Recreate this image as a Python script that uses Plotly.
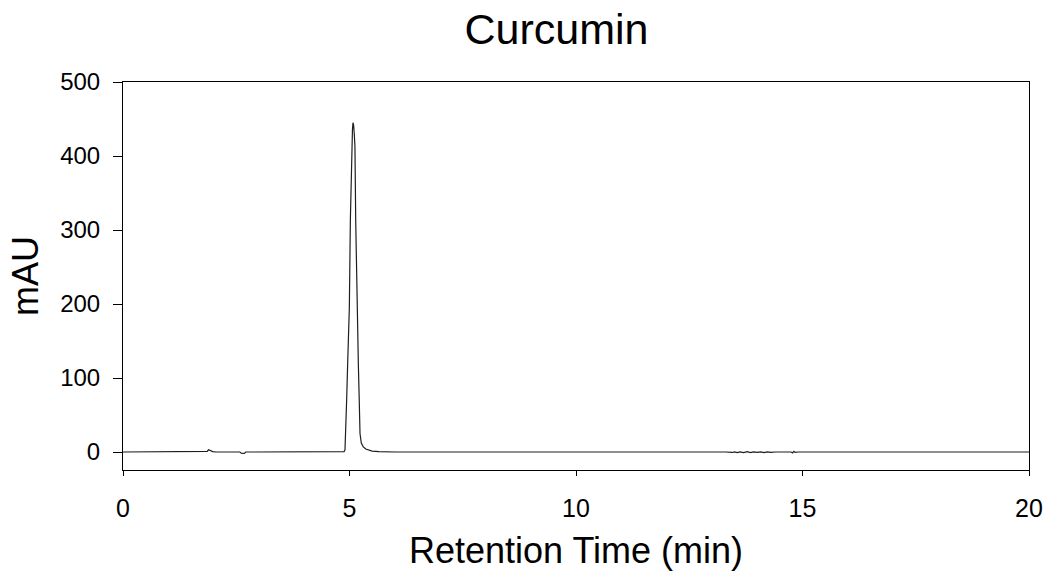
import plotly.graph_objects as go

# Chromatogram points (time in min, absorbance in mAU)
time_min = [
    0.00, 1.80, 1.86, 1.89, 1.93, 1.98, 2.05, 2.58, 2.61, 2.64, 2.68, 2.71,
    4.80, 4.88, 4.90, 4.915, 4.937, 4.955, 4.974, 4.997, 5.019, 5.035, 5.048, 5.065, 5.077,
    5.09, 5.105, 5.12, 5.137, 5.15, 5.166, 5.18, 5.195, 5.215, 5.232, 5.26, 5.305, 5.36,
    5.42, 5.50, 5.65, 6.00,
    13.30, 13.45, 13.50, 13.56, 13.62, 13.70, 13.78, 13.85, 13.92, 14.00, 14.08, 14.15,
    14.22, 14.30, 14.40, 14.75, 14.78, 14.81, 14.84, 14.90, 20.00,
]
absorbance_mau = [
    0.0, 0.0, 1.0, 3.0, 2.0, 0.5, 0.0, 0.0, -1.5, -2.0, -1.8, 0.0,
    0.0, 0.5, 2.5, 25.0, 70.0, 110.0, 145.0, 196.0, 313.0, 370.0, 413.0, 435.0, 445.0,
    442.0, 430.0, 413.0, 313.0, 260.0, 210.0, 165.0, 120.0, 70.0, 25.0, 12.0, 7.0, 4.0,
    2.5, 1.2, 0.5, 0.0,
    0.0, -0.6, 0.3, -0.8, 0.2, -0.7, 0.4, -0.9, 0.3, -0.6, 0.2, -0.8,
    0.3, -0.5, 0.0, 0.0, -1.2, 0.8, -0.6, 0.0, 0.0,
]

x_ticks = [0, 5, 10, 15, 20]
y_ticks = [0, 100, 200, 300, 400, 500]

FONT = "Arial, Liberation Sans, sans-serif"

fig = go.Figure(
    go.Scatter(
        x=time_min,
        y=absorbance_mau,
        mode="lines",
        line=dict(color="#1e1e1e", width=1.2),
        hoverinfo="x+y",
    )
)

fig.update_layout(
    width=1049,
    height=577,
    margin=dict(l=123, r=20, t=82, b=107, autoexpand=False),
    paper_bgcolor="white",
    plot_bgcolor="white",
    showlegend=False,
    font=dict(family=FONT, color="black"),
    title=dict(
        text="Curcumin",
        x=(465 + 648) / 2 / 1049,
        xanchor="center",
        y=1 - 29 / 577,
        yanchor="middle",
        yref="container",
        font=dict(size=43, family=FONT, color="black"),
    ),
)

fig.update_xaxes(
    range=[0, 20],
    tickvals=x_ticks,
    ticks="outside",
    ticklen=5,
    tickcolor="black",
    tickwidth=1,
    tickfont=dict(size=25, family=FONT, color="black"),
    ticklabelstandoff=11,
    showline=True,
    linecolor="black",
    linewidth=1,
    mirror=True,
    showgrid=False,
    zeroline=False,
    automargin=False,
    title=dict(text="Retention Time (min)", font=dict(size=36, family=FONT, color="black"), standoff=16),
)

fig.update_yaxes(
    range=[-24.3, 500],
    tickvals=y_ticks,
    ticks="outside",
    ticklen=9,
    tickcolor="black",
    tickwidth=1,
    tickfont=dict(size=24, family=FONT, color="black"),
    ticklabelstandoff=8,
    showline=True,
    linecolor="black",
    linewidth=1,
    mirror=True,
    showgrid=False,
    zeroline=False,
    automargin=False,
    title=dict(text="mAU", font=dict(size=36, family=FONT, color="black"), standoff=10),
)

fig.write_html("out.html")
